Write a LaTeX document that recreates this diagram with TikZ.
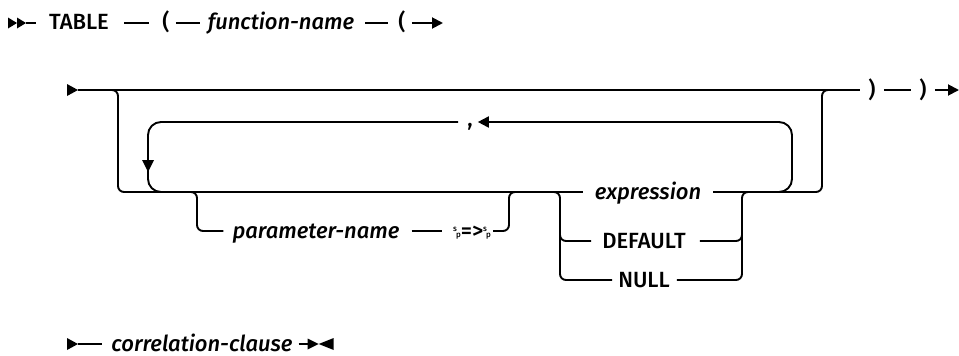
\documentclass[tikz,border=0pt]{standalone}
\usepackage{fontspec}
\setmainfont{Fira Sans Medium}[ItalicFont={Fira Sans Medium Italic}]
\usetikzlibrary{arrows.meta,calc}
\newcommand\spmark{{\fontsize{8}{8}\selectfont\raisebox{6.5pt}{s}\kern-1pt\raisebox{1pt}{p}}}
\tikzset{
  ln/.style={line width=1.9pt},
  rc/.style={ln, rounded corners=6pt},
  lc/.style={ln, rounded corners=13pt},
  lbl/.style={inner sep=0pt, text height=14pt, text depth=0pt, font=\fontsize{22}{26}\selectfont},
  var/.style={lbl, font=\fontsize{22}{26}\selectfont\itshape},
  commalbl/.style={lbl, text height=8pt},
  tipr/.style={-{Triangle[length=11pt,width=11pt]}},
}
\begin{document}
\begin{tikzpicture}[x=1pt,y=-1pt]
\useasboundingbox (0,0) rectangle (959,356);

% ---------- row 1 ----------
\coordinate (m1) at (8,23);
\coordinate (m1e) at (26,23);
\fill (m1) ++(0,-5.5) -- ++(9,5.5) -- ++(-9,5.5) -- cycle;
\fill (m1) ++(9,-5.5) -- ++(9,5.5) -- ++(-9,5.5) -- cycle;
\node[lbl] (table) at (79,23) {TABLE};
\node[lbl] (lp1) at (166,23) {(};
\node[var] (fname) at (281,23) {function-name};
\node[lbl] (lp2) at (402,23) {(};
\coordinate (r1end) at (443,23);
\draw[ln] (m1e) -- ([xshift=-13pt]table.west);
\draw[ln] ([xshift=15pt]table.east) -- ([xshift=-13pt]lp1.west);
\draw[ln] ([xshift=6pt]lp1.east) -- ([xshift=-8pt]fname.west);
\draw[ln] ([xshift=11pt]fname.east) -- ([xshift=-10pt]lp2.west);
\draw[ln, tipr] ([xshift=6pt]lp2.east) -- (r1end);

% ---------- row 2 main line ----------
\coordinate (m2) at (67,90);
\coordinate (m2e) at (78,90);
\fill (m2) ++(0,-6) -- ++(11,6) -- ++(-11,6) -- cycle;
\node[lbl] (rp1) at (872,90) {)};
\node[lbl] (rp2) at (923,90) {)};
\coordinate (r2end) at (959,90);
\draw[ln] (m2e) -- ([xshift=-8pt]rp1.west);
\draw[ln] ([xshift=8pt]rp1.east) -- ([xshift=-8pt]rp2.west);
\draw[ln, tipr] ([xshift=8pt]rp2.east) -- (r2end);

% bypass of the whole argument list
\draw[rc] (100,90) -- (118,90) -- (118,192) -- (130,192);
\draw[rc] (810,192) -- (822,192) -- (822,90) -- (840,90);

% bottom rail with expression
\node[var] (expr) at (648,192) {expression};
\draw[ln] (124,192) -- ([xshift=-12pt]expr.west);
\draw[ln] ([xshift=12pt]expr.east) -- (816,192);

% repeat loop with comma
\node[commalbl] (comma) at (470,122) {,};
\draw[lc] ([xshift=-9pt]comma.west) -- (148,122) -- (148,192) -- (175,192);
\fill (142,160) -- (154,160) -- (148,172) -- cycle;
\draw[lc, tipr] (770,192) -- (792,192) -- (792,122) -- ([xshift=5pt]comma.east);

% optional parameter-name =>
\node[var] (pname) at (316,231) {parameter-name};
\node[lbl] (assign) at (472,231) {\spmark=>\spmark};
\draw[rc] (190,192) -- (197,192) -- (197,231) -- ([xshift=-9pt]pname.west);
\draw[ln] ([xshift=12pt]pname.east) -- ([xshift=-11pt]assign.west);
\draw[rc] ([xshift=2pt]assign.east) -- (509,231) -- (509,192) -- (516,192);

% choice expression / DEFAULT / NULL
\node[lbl] (default) at (644,241) {DEFAULT};
\node[lbl] (null) at (644,280) {NULL};
\draw[rc] (553,192) -- (560,192) -- (560,280) -- ([xshift=-6pt]null.west);
\draw[rc] (560,230) -- (560,241) -- ([xshift=-11pt]default.west);
\draw[rc] ([xshift=7pt]null.east) -- (742,280) -- (742,192) -- (749,192);
\draw[rc] ([xshift=14pt]default.east) -- (742,241) -- (742,230);

% ---------- row 3 ----------
\coordinate (m3) at (67,344);
\fill (m3) ++(0,-6) -- ++(11,6) -- ++(-11,6) -- cycle;
\coordinate (m3e) at (78,344);
\node[var] (corr) at (202,344) {correlation-clause};
\coordinate (e3) at ([xshift=15pt]corr.east);
\draw[ln] (m3e) -- ([xshift=-9pt]corr.west);
\draw[ln] ([xshift=6pt]corr.east) -- (e3);
\fill (e3) ++(0,-5.5) -- ++(11,5.5) -- ++(-11,5.5) -- cycle;
\fill (e3) ++(26,-6) -- ++(-15,6) -- ++(15,6) -- cycle;
\end{tikzpicture}
\end{document}
